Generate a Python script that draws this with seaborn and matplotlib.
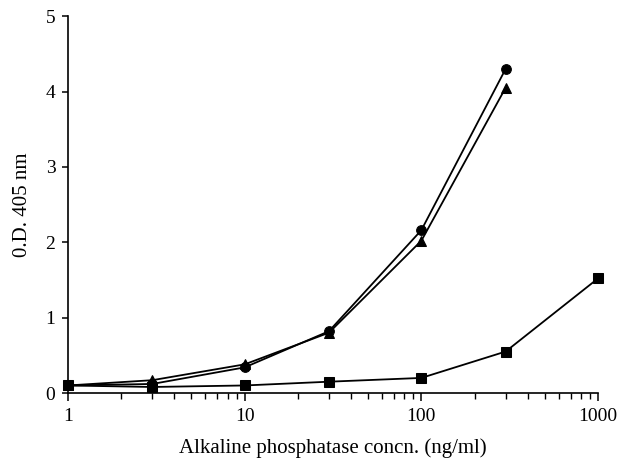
import matplotlib
matplotlib.use("Agg")
import matplotlib.pyplot as plt
import seaborn as sns
import pandas as pd
from matplotlib.ticker import LogLocator, NullFormatter

conc_a = [1, 3, 10, 30, 100, 300]
od_circle = [0.10, 0.12, 0.34, 0.82, 2.16, 4.30]
od_triangle = [0.10, 0.17, 0.38, 0.80, 2.02, 4.05]
conc_b = [1, 3, 10, 30, 100, 300, 1000]
od_square = [0.10, 0.08, 0.10, 0.15, 0.20, 0.55, 1.52]

sns.set_theme(style="white")
plt.rcParams['font.family'] = ['Liberation Serif', 'DejaVu Serif']
plt.rcParams['text.color'] = 'black'
plt.rcParams['axes.labelcolor'] = 'black'
plt.rcParams['xtick.color'] = 'black'
plt.rcParams['ytick.color'] = 'black'

fig = plt.figure(figsize=(6.21, 4.61), dpi=100)
ax = fig.add_axes([0.1095, 0.1475, 0.8535, 0.8175])

df_c = pd.DataFrame({"x": conc_a, "y": od_circle})
df_t = pd.DataFrame({"x": conc_a, "y": od_triangle})
df_s = pd.DataFrame({"x": conc_b, "y": od_square})

for df, m in [(df_c, "o"), (df_t, "^"), (df_s, "s")]:
    sns.lineplot(data=df, x="x", y="y", ax=ax, color="black", linewidth=1.3,
                 marker=m, markersize=7, markeredgecolor="black",
                 markerfacecolor="black", legend=False, clip_on=False)

ax.set_xscale("log")
ax.set_xlim(1, 1000)
ax.set_ylim(0, 5)
ax.set_xticks([1, 10, 100, 1000])
ax.set_xticklabels(["1", "10", "100", "1000"])
ax.xaxis.set_minor_locator(LogLocator(base=10, subs=range(2, 10)))
ax.xaxis.set_minor_formatter(NullFormatter())
ax.set_yticks([0, 1, 2, 3, 4, 5])
ax.set_yticklabels(["0", "1", "2", "3", "4", "5"])

for s in ["top", "right"]:
    ax.spines[s].set_visible(False)
for s in ["left", "bottom"]:
    ax.spines[s].set_color("black")
    ax.spines[s].set_linewidth(1.2)

ax.tick_params(axis="x", which="major", direction="out", length=6, width=1.1,
               colors="black", labelsize=14, pad=5, bottom=True)
ax.tick_params(axis="x", which="minor", direction="out", length=4, width=1.0,
               colors="black", bottom=True)
ax.tick_params(axis="y", which="major", direction="out", length=4, width=1.1,
               colors="black", labelsize=14, pad=5, left=True)

ax.set_xlabel("Alkaline phosphatase concn. (ng/ml)", fontsize=15, labelpad=9, color="black")
ax.set_ylabel("0.D. 405 nm", fontsize=15, labelpad=10, color="black")

fig.savefig("out.png", dpi=100)
